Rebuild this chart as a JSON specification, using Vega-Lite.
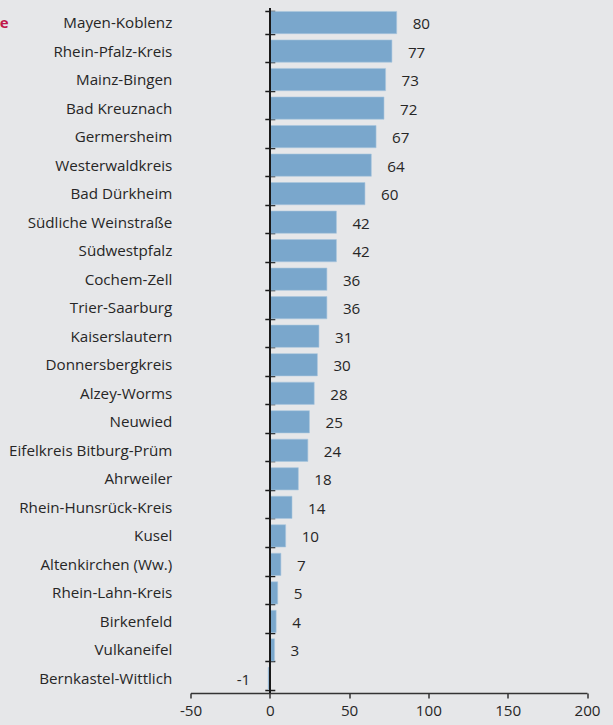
{
  "$schema": "https://vega.github.io/schema/vega-lite/v6.json",
  "autosize": "none",
  "width": 396.5,
  "height": 685,
  "padding": {"left": 190.5, "top": 8, "right": 26, "bottom": 32},
  "background": "#e6e7e9",
  "title": {"text": "e", "anchor": "start", "align": "right", "baseline": "alphabetic", "dx": -182, "offset": -42, "frame": "group", "font": "Open Sans", "fontSize": 15, "fontWeight": "bold", "color": "#c0174a"},
  "config": {
    "view": {"stroke": null},
    "font": "Open Sans",
    "axis": {"labelFont": "Open Sans", "labelFontSize": 15.2, "labelColor": "#262626"}
  },
  "data": {"values": [
    {"kreis": "Mayen-Koblenz", "wert": 80},
    {"kreis": "Rhein-Pfalz-Kreis", "wert": 77},
    {"kreis": "Mainz-Bingen", "wert": 73},
    {"kreis": "Bad Kreuznach", "wert": 72},
    {"kreis": "Germersheim", "wert": 67},
    {"kreis": "Westerwaldkreis", "wert": 64},
    {"kreis": "Bad Dürkheim", "wert": 60},
    {"kreis": "Südliche Weinstraße", "wert": 42},
    {"kreis": "Südwestpfalz", "wert": 42},
    {"kreis": "Cochem-Zell", "wert": 36},
    {"kreis": "Trier-Saarburg", "wert": 36},
    {"kreis": "Kaiserslautern", "wert": 31},
    {"kreis": "Donnersbergkreis", "wert": 30},
    {"kreis": "Alzey-Worms", "wert": 28},
    {"kreis": "Neuwied", "wert": 25},
    {"kreis": "Eifelkreis Bitburg-Prüm", "wert": 24},
    {"kreis": "Ahrweiler", "wert": 18},
    {"kreis": "Rhein-Hunsrück-Kreis", "wert": 14},
    {"kreis": "Kusel", "wert": 10},
    {"kreis": "Altenkirchen (Ww.)", "wert": 7},
    {"kreis": "Rhein-Lahn-Kreis", "wert": 5},
    {"kreis": "Birkenfeld", "wert": 4},
    {"kreis": "Vulkaneifel", "wert": 3},
    {"kreis": "Bernkastel-Wittlich", "wert": -1}
  ]},
  "encoding": {
    "y": {"field": "kreis", "type": "nominal", "sort": null,
      "scale": {"paddingInner": 0.22, "paddingOuter": 0.12},
      "axis": {"title": null, "domain": false, "offset": -84.3, "tickSize": 10, "tickBand": "extent", "tickColor": "#1a1a1a", "tickWidth": 1.5, "labelPadding": 93}},
    "x": {"field": "wert", "type": "quantitative",
      "scale": {"domain": [-50, 200], "nice": false, "zero": false},
      "axis": {"title": null, "values": [-50, 0, 50, 100, 150, 200], "labelExpr": "replace(datum.label, '\u2212', '-')", "grid": false, "domainColor": "#333333", "domainWidth": 1.5, "tickColor": "#333333", "tickWidth": 1.5, "tickSize": 5, "labelPadding": 5, "labelFlush": false}}
  },
  "layer": [
    {"mark": {"type": "bar", "color": "#7aa7cc", "stroke": "#a9c6de", "strokeWidth": 0.6}},
    {"mark": {"type": "rule", "color": "#1a1a1a", "strokeWidth": 1.5},
     "encoding": {"x": {"datum": 0}, "y": null}},
    {"transform": [{"filter": "datum.wert >= 0"}],
     "mark": {"type": "text", "align": "left", "dx": 16, "dy": 1.5, "fontSize": 15.2, "color": "#262626", "font": "Open Sans"},
     "encoding": {"text": {"field": "wert"}}},
    {"transform": [{"filter": "datum.wert < 0"}],
     "mark": {"type": "text", "align": "right", "dx": -18, "dy": 1.5, "fontSize": 15.2, "color": "#262626", "font": "Open Sans"},
     "encoding": {"text": {"field": "wert"}}}
  ]
}
